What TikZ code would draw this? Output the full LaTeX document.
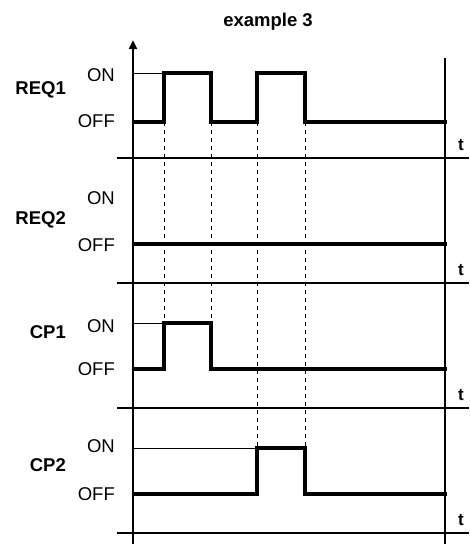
\documentclass[tikz,border=0pt]{standalone}
\usepackage{fontspec}
\setmainfont{Liberation Sans}
\usetikzlibrary{arrows.meta}
\begin{document}
\begin{tikzpicture}[x=1pt,y=-1pt,
  lvl/.style={anchor=east,inner sep=0pt,font=\fontsize{18.5}{18.5}\selectfont},
  sig/.style={anchor=east,inner sep=0pt,font=\bfseries\fontsize{18.5}{18.5}\selectfont},
  tlab/.style={inner sep=0pt,font=\bfseries\fontsize{17}{17}\selectfont},
  wave/.style={line width=3.6pt,line join=miter,line cap=rect},
  guide/.style={line width=0.8pt},
  sep/.style={line width=2.2pt},
  dsh/.style={line width=1pt,dash pattern=on 4pt off 4pt}]
\useasboundingbox (0,0) rectangle (469,544);
% title
\node[inner sep=0pt,font=\bfseries\fontsize{18.5}{18.5}\selectfont] (title) at (268,22) {example 3};
% axes
\coordinate (ybot) at (133,544);
\coordinate (ytop) at (133,40);
\draw[line width=2.6pt,-{Triangle[length=9pt,width=8pt]}] (ybot) -- (ytop);
\coordinate (rtop) at (445,58);
\coordinate (rbot) at (445,544);
\draw[line width=1.1pt] (rtop) -- (rbot);
% separators
\foreach \n/\y in {a/158,b/283,c/408,d/533}{
  \coordinate (s\n l) at (117,\y);
  \coordinate (s\n r) at (469,\y);
  \draw[sep] (s\n l) -- (s\n r);
  \node[tlab] (t\n) at (461,\y-13) {t};
}
% labels
\node[sig] (req1) at (66,90) {REQ1};
\node[lvl] (on1) at (115,75) {ON};
\node[lvl] (off1) at (115,121) {OFF};
\node[sig] (req2) at (66,220) {REQ2};
\node[lvl] (on2) at (115,198) {ON};
\node[lvl] (off2) at (115,245) {OFF};
\node[sig] (cp1) at (66,332) {CP1};
\node[lvl] (on3) at (115,326) {ON};
\node[lvl] (off3) at (115,369.5) {OFF};
\node[sig] (cp2) at (66,465) {CP2};
\node[lvl] (on4) at (115,446.5) {ON};
\node[lvl] (off4) at (115,494) {OFF};
% dashed guides
\draw[dsh] (164,122) -- (164,323);
\draw[dsh] (211,122) -- (211,323);
\draw[dsh] (257,122) -- (257,448);
\draw[dsh] (305,122) -- (305,448);
% ON guides
\draw[guide] (133,73) -- (164,73);
\draw[guide] (133,323) -- (164,323);
\draw[guide] (133,448) -- (257,448);
% waves
\draw[wave] (134,122) -- (164,122) -- (164,73) -- (211,73) -- (211,122) -- (257,122) -- (257,73) -- (305,73) -- (305,122) -- (445,122);
\draw[wave] (134,244) -- (445,244);
\draw[wave] (134,369) -- (164,369) -- (164,323) -- (211,323) -- (211,369) -- (445,369);
\draw[wave] (134,494) -- (257,494) -- (257,448) -- (305,448) -- (305,494) -- (445,494);
\end{tikzpicture}
\end{document}
